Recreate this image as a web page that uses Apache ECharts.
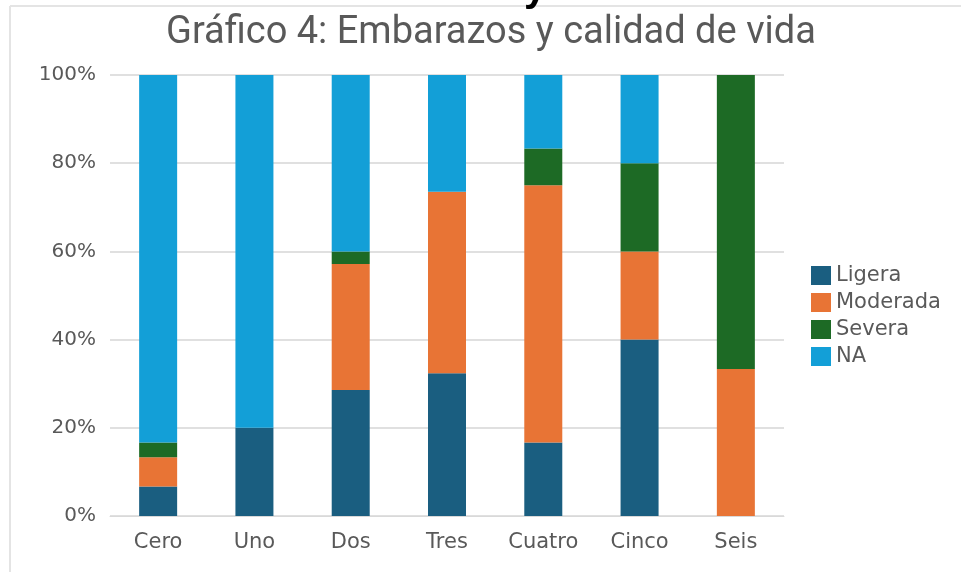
<!DOCTYPE html>
<html>
<head>
<meta charset="utf-8">
<script src="https://cdn.jsdelivr.net/npm/echarts@6/dist/echarts.min.js"></script>
<style>
  html, body { margin: 0; padding: 0; background: #fff; }
  #main { width: 961px; height: 575px; }
</style>
</head>
<body>
<div id="main"></div>
<script>
// categorias y porcentajes
const categories = ['Cero', 'Uno', 'Dos', 'Tres', 'Cuatro', 'Cinco', 'Seis']
const ligera = [6.67, 20, 28.57, 32.35, 16.67, 40, 0]
const moderada = [6.67, 0, 28.57, 41.18, 58.33, 20, 33.33]
const severa = [3.33, 0, 2.86, 0, 8.33, 20, 66.67]
const na = [83.33, 80, 40, 26.47, 16.67, 20, 0]

const myChart = echarts.init(document.getElementById('main'))

const barSeries = (name, data, color) => ({
    name: name,
    type: 'bar',
    stack: 'total',
    barWidth: 38,
    itemStyle: { color: color },
    data: data,
})

myChart.setOption({
    animation: false,
    textStyle: { fontFamily: 'DejaVu Sans' },
    title: {
        text: 'Gráfico 4: Embarazos y calidad de vida',
        left: 166,
        top: 14,
        padding: 0,
        textStyle: { color: '#595959', fontSize: 38, fontWeight: 'normal', fontFamily: 'Roboto' },
    },
    graphic: [
        // marco del grafico
        { type: 'line', shape: { x1: 10, y1: 6, x2: 961, y2: 6 }, style: { stroke: '#e4e4e4', lineWidth: 2 } },
        { type: 'line', shape: { x1: 10, y1: 6, x2: 10, y2: 572 }, style: { stroke: '#e4e4e4', lineWidth: 2 } },
        // resto del texto de arriba, recortado
        { type: 'text', left: 524, top: -30, style: { text: 'y', fill: '#000', font: 'bold 40px "Liberation Sans"' } },
    ],
    legend: {
        orient: 'vertical',
        left: 806,
        top: 260,
        itemWidth: 20,
        itemHeight: 19,
        itemGap: 6,
        icon: 'rect',
        textStyle: { color: '#595959', fontSize: 21 },
        data: ['Ligera', 'Moderada', 'Severa', 'NA'],
    },
    grid: { left: 110, right: 177, top: 75, bottom: 59 },
    xAxis: {
        type: 'category',
        data: categories,
        axisLine: { lineStyle: { color: '#d9d9d9' } },
        axisTick: { show: false },
        axisLabel: { color: '#595959', fontSize: 21, margin: 16 },
    },
    yAxis: {
        type: 'value',
        min: 0,
        max: 100,
        interval: 20,
        axisLabel: { color: '#595959', fontSize: 20, margin: 14, formatter: '{value}%' },
        splitLine: { lineStyle: { color: '#e0e0e0', width: 2 } },
    },
    series: [
        barSeries('Ligera', ligera, '#1a5e80'),
        barSeries('Moderada', moderada, '#e87435'),
        barSeries('Severa', severa, '#1d6a25'),
        barSeries('NA', na, '#139fd7'),
    ],
})
</script>
</body>
</html>
